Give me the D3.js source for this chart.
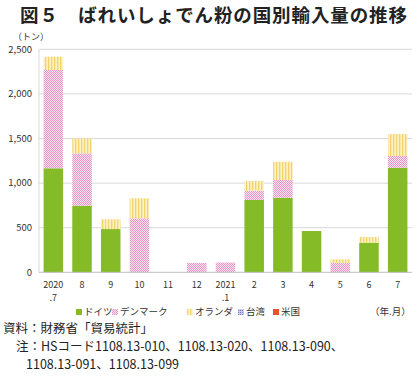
<!DOCTYPE html>
<html>
<head>
<meta charset="utf-8">
<script src="https://cdn.jsdelivr.net/npm/d3@7"></script>
<style>
  html, body { margin: 0; padding: 0; background: #fff; }
  svg { display: block; }
</style>
</head>
<body>
<div id="chart"></div>
<script>
// data (tons)
const months = ["2020|.7", "8", "9", "10", "11", "12", "2021|.1", "2", "3", "4", "5", "6", "7"];
const germany = [1166, 747, 485, 0, 0, 0, 0, 811, 836, 463, 0, 332, 1173];
const denmark = [1102, 587, 0, 605, 0, 105, 110, 104, 199, 0, 105, 0, 131];
const netherlands = [149, 164, 109, 225, 0, 0, 0, 108, 205, 0, 40, 64, 246];
const taiwan = [0, 0, 0, 0, 0, 0, 0, 0, 0, 0, 0, 0, 0];
const usa = [0, 0, 0, 0, 0, 0, 0, 0, 0, 0, 0, 0, 0];
const seriesNames = ["ドイツ", "デンマーク", "オランダ", "台湾", "米国"];
const yTicks = [0, 500, 1000, 1500, 2000, 2500];

const width = 420, height = 377;
const font = "'Noto Sans CJK JP', 'Noto Sans', sans-serif";

const svg = d3.select("#chart").append("svg")
  .attr("width", width)
  .attr("height", height);

// patterns
const defs = svg.append("defs");
const pDen = defs.append("pattern").attr("id", "pat-den")
  .attr("patternUnits", "userSpaceOnUse").attr("width", 2).attr("height", 2);
pDen.append("rect").attr("width", 2).attr("height", 2).attr("fill", "#fae3ef");
pDen.append("rect").attr("width", 1).attr("height", 1).attr("fill", "#e996c6");
pDen.append("rect").attr("x", 1).attr("y", 1).attr("width", 1).attr("height", 1).attr("fill", "#e996c6");

const pNed = defs.append("pattern").attr("id", "pat-ned")
  .attr("patternUnits", "userSpaceOnUse").attr("width", 3).attr("height", 3);
pNed.append("rect").attr("width", 3).attr("height", 3).attr("fill", "#fdf1c6");
pNed.append("rect").attr("width", 1.3).attr("height", 3).attr("fill", "#f5d36c");

const pTw = defs.append("pattern").attr("id", "pat-tw")
  .attr("patternUnits", "userSpaceOnUse").attr("width", 2).attr("height", 2);
pTw.append("rect").attr("width", 2).attr("height", 2).attr("fill", "#c9c9ee");
pTw.append("rect").attr("width", 1).attr("height", 1).attr("fill", "#7f7fcc");

const fills = ["#84bb27", "url(#pat-den)", "url(#pat-ned)", "url(#pat-tw)", "#e8542a"];

// title
svg.append("text")
  .attr("x", 20).attr("y", 22)
  .attr("font-family", font)
  .attr("font-size", 18.5)
  .attr("font-weight", "bold")
  .attr("fill", "#222")
  .attr("textLength", 387)
  .attr("lengthAdjust", "spacing")
  .text("図５　ばれいしょでん粉の国別輸入量の推移");

const plotLeft = 39, plotRight = 412, plotTop = 49.3, plotBottom = 272.3;

const x = d3.scaleBand().domain(months).range([plotLeft, plotRight])
  .paddingInner(0.32).paddingOuter(0.16);
const y = d3.scaleLinear().domain([0, 2500]).range([plotBottom, plotTop]);

// grid
svg.append("g").selectAll("line")
  .data(yTicks.filter(d => d > 0))
  .join("line")
  .attr("x1", plotLeft).attr("x2", plotRight)
  .attr("y1", d => y(d)).attr("y2", d => y(d))
  .attr("stroke", "#d9d9d9").attr("stroke-width", 1);

svg.append("line")
  .attr("x1", plotLeft).attr("x2", plotLeft)
  .attr("y1", plotTop).attr("y2", plotBottom)
  .attr("stroke", "#d9d9d9");

// stacked bars
const table = months.map((m, i) => ({
  month: m, s0: germany[i], s1: denmark[i], s2: netherlands[i], s3: taiwan[i], s4: usa[i]
}));
const stack = d3.stack().keys(["s0", "s1", "s2", "s3", "s4"]);
const stacked = stack(table);

svg.append("g").selectAll("g")
  .data(stacked)
  .join("g")
  .attr("fill", (d, i) => fills[i])
  .selectAll("rect")
  .data(d => d.filter(v => v[1] - v[0] > 0))
  .join("rect")
  .attr("x", d => x(d.data.month))
  .attr("width", x.bandwidth())
  .attr("y", d => y(d[1]))
  .attr("height", d => y(d[0]) - y(d[1]));

// baseline
svg.append("line")
  .attr("x1", plotLeft).attr("x2", plotRight)
  .attr("y1", plotBottom).attr("y2", plotBottom)
  .attr("stroke", "#bfbfbf");

// y labels
svg.append("g").selectAll("text")
  .data(yTicks)
  .join("text")
  .attr("x", 32)
  .attr("y", d => y(d))
  .attr("dy", "0.35em")
  .attr("text-anchor", "end")
  .attr("font-family", font)
  .attr("font-size", 9.5)
  .attr("fill", "#333")
  .text(d => d3.format(",")(d));

svg.append("text")
  .attr("x", 13).attr("y", 40)
  .attr("font-family", font)
  .attr("font-size", 9)
  .attr("fill", "#333")
  .text("（トン）");

// x labels: month on first line, year suffix on a second line
const xg = svg.append("g")
  .attr("font-family", font)
  .attr("font-size", 9)
  .attr("fill", "#333")
  .attr("text-anchor", "middle");
months.forEach(m => {
  const parts = m.split("|");
  parts.forEach((p, j) => {
    xg.append("text")
      .attr("x", x(m) + x.bandwidth() / 2)
      .attr("y", 288 + j * 13)
      .text(p);
  });
});

// legend
const legendX = [76, 112, 187, 238, 273];
const leg = svg.append("g").selectAll("g")
  .data(seriesNames)
  .join("g")
  .attr("transform", (d, i) => `translate(${legendX[i]},312)`);
leg.append("rect")
  .attr("x", 0).attr("y", -3).attr("width", 6).attr("height", 6)
  .attr("fill", (d, i) => fills[i]);
leg.append("text")
  .attr("x", 8).attr("y", 0).attr("dy", "0.35em")
  .attr("font-family", font)
  .attr("font-size", 9.5)
  .attr("fill", "#333")
  .text(d => d);

svg.append("text")
  .attr("x", 370).attr("y", 312).attr("dy", "0.35em")
  .attr("font-family", font)
  .attr("font-size", 9.5)
  .attr("fill", "#333")
  .text("（年.月）");

// notes
const notes = svg.append("g")
  .attr("font-family", font)
  .attr("font-size", 12.5)
  .attr("fill", "#222");
notes.append("text").attr("x", 3).attr("y", 333).text("資料：財務省「貿易統計」");
notes.append("text").attr("x", 16).attr("y", 351).text("注：HSコード1108.13-010、1108.13-020、1108.13-090、");
notes.append("text").attr("x", 26).attr("y", 369).text("1108.13-091、1108.13-099");
</script>
</body>
</html>
